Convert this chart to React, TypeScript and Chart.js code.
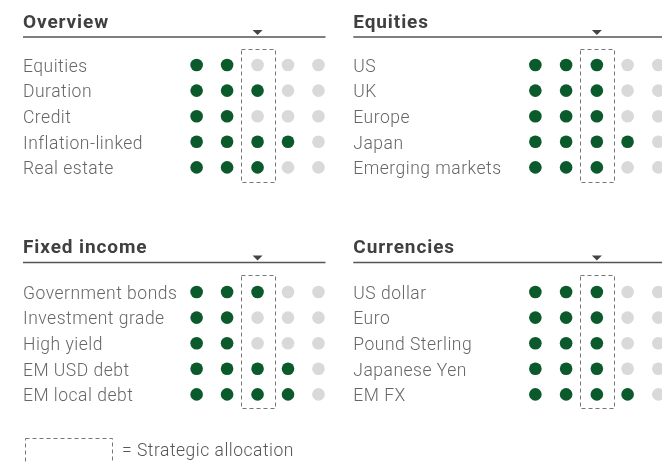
import React, { useEffect, useRef } from 'react';
import { Chart, registerables } from 'chart.js';
Chart.register(...registerables);

const scaleSteps = [1, 2, 3, 4, 5];
const strategicStep = 3;

const overviewTitle = 'Overview';
const overviewRows = ['Equities', 'Duration', 'Credit', 'Inflation-linked', 'Real estate'];
const overviewScores = [2, 3, 2, 4, 3];

const equitiesTitle = 'Equities';
const equitiesRows = ['US', 'UK', 'Europe', 'Japan', 'Emerging markets'];
const equitiesScores = [3, 3, 3, 4, 3];

const fixedIncomeTitle = 'Fixed income';
const fixedIncomeRows = ['Government bonds', 'Investment grade', 'High yield', 'EM USD debt', 'EM local debt'];
const fixedIncomeScores = [3, 2, 2, 4, 4];

const currenciesTitle = 'Currencies';
const currenciesRows = ['US dollar', 'Euro', 'Pound Sterling', 'Japanese Yen', 'EM FX'];
const currenciesScores = [3, 3, 3, 3, 4];

const legendText = '= Strategic allocation';

const GREEN = '#0b5a2c';
const GREY = '#d9d9d9';
const FONT = 'Roboto';
const LABEL_SPACING = '0.5px';

const panelDecor = {
  id: 'panelDecor',
  beforeDraw(chart: any) {
    (chart.ctx as any).letterSpacing = LABEL_SPACING;
  },
  afterDraw(chart: any, _args: any, opts: any) {
    const { ctx, chartArea } = chart;
    const xs = chart.scales.x;
    const left = opts.lineLeft;
    const dy = opts.decorDy || 0;
    const cx = xs.getPixelForValue(strategicStep);
    const lastX = xs.getPixelForValue(scaleSteps[scaleSteps.length - 1]);
    ctx.save();
    // title
    (ctx as any).letterSpacing = '0.9px';
    ctx.font = `bold 19px ${FONT}`;
    ctx.fillStyle = '#404040';
    ctx.textBaseline = 'alphabetic';
    ctx.textAlign = 'left';
    ctx.fillText(opts.title, left, 27.5 + dy);
    (ctx as any).letterSpacing = '0px';
    // rule
    ctx.strokeStyle = '#555';
    ctx.lineWidth = 1.4;
    ctx.beginPath();
    ctx.moveTo(left, 37 + dy);
    ctx.lineTo(lastX + 7, 37 + dy);
    ctx.stroke();
    // marker triangle
    ctx.fillStyle = '#444';
    ctx.beginPath();
    ctx.moveTo(cx - 5, 30 + dy);
    ctx.lineTo(cx + 5, 30 + dy);
    ctx.lineTo(cx, 35 + dy);
    ctx.closePath();
    ctx.fill();
    // dashed strategic box
    ctx.setLineDash([4, 3]);
    ctx.strokeStyle = '#777';
    ctx.lineWidth = 1;
    ctx.strokeRect(Math.round(cx - 17) + 0.5, Math.round(chartArea.top - 3 + dy) + 0.5, 34, chartArea.bottom - chartArea.top + 5);
    if (opts.legend) {
      ctx.strokeRect(25.5, 211.5, 87, 40);
      ctx.setLineDash([]);
      (ctx as any).letterSpacing = LABEL_SPACING;
      ctx.font = `300 17.5px ${FONT}`;
      ctx.fillStyle = '#555';
      ctx.textBaseline = 'middle';
      ctx.fillText(opts.legend, 122, 225);
    }
    ctx.restore();
  },
};

type PanelProps = {
  title: string;
  rows: string[];
  scores: number[];
  left: number;
  top: number;
  width: number;
  height: number;
  padLeft: number;
  axisWidth: number;
  padRight: number;
  padBottom: number;
  decorDy?: number;
  legend?: string;
};

function Panel(p: PanelProps) {
  const ref = useRef<HTMLCanvasElement>(null);
  useEffect(() => {
    if (!ref.current) return;
    const filled: any[] = [];
    const empty: any[] = [];
    p.rows.forEach((r, ri) => {
      scaleSteps.forEach((s) => {
        (s <= p.scores[ri] ? filled : empty).push({ x: s, y: r });
      });
    });
    const chart = new Chart(ref.current, {
      type: 'scatter',
      data: {
        datasets: [
          { data: filled, backgroundColor: GREEN, borderWidth: 0, pointRadius: 6.3, pointHoverRadius: 6.3 },
          { data: empty, backgroundColor: GREY, borderWidth: 0, pointRadius: 6.3, pointHoverRadius: 6.3 },
        ],
      },
      options: {
        responsive: false,
        animation: false,
        devicePixelRatio: 1,
        layout: { padding: { left: p.padLeft, right: p.padRight, top: 52.2, bottom: p.padBottom } },
        plugins: {
          legend: { display: false },
          tooltip: { enabled: false },
          panelDecor: { title: p.title, lineLeft: p.padLeft, legend: p.legend, decorDy: p.decorDy },
        } as any,
        scales: {
          x: { type: 'linear', min: 0.5, max: 5.5, display: false },
          y: {
            type: 'category',
            labels: p.rows,
            offset: true,
            grid: { display: false },
            border: { display: false },
            ticks: {
              crossAlign: 'far',
              padding: 0,
              labelOffset: 2.5,
              color: '#666',
              font: { family: FONT, size: 17.5, weight: '300' as any },
            },
            afterFit: (scale: any) => {
              scale.width = p.axisWidth;
            },
          },
        },
      },
      plugins: [panelDecor],
    });
    return () => chart.destroy();
  }, []);
  return (
    <div style={{ position: 'absolute', left: p.left, top: p.top, width: p.width, height: p.height }}>
      <canvas ref={ref} width={p.width} height={p.height} style={{ width: p.width, height: p.height, display: 'block' }} />
    </div>
  );
}

export default function App() {
  return (
    <div style={{ position: 'fixed', left: 0, top: 0, width: 662, height: 463, overflow: 'hidden', background: '#fff' }}>
      <Panel title={overviewTitle} rows={overviewRows} scores={overviewScores}
        left={0} top={0} width={340} height={227} padLeft={23} axisWidth={158.4} padRight={2.7} padBottom={46.8} />
      <Panel title={equitiesTitle} rows={equitiesRows} scores={equitiesScores}
        left={330} top={0} width={350} height={227} padLeft={23.3} axisWidth={166.7} padRight={5.25} padBottom={46.8} />
      <Panel title={fixedIncomeTitle} rows={fixedIncomeRows} scores={fixedIncomeScores}
        left={0} top={227} width={340} height={236} padLeft={23} axisWidth={158.4} padRight={2.7} padBottom={55.8}
        decorDy={-1.5} legend={legendText} />
      <Panel title={currenciesTitle} rows={currenciesRows} scores={currenciesScores}
        left={330} top={227} width={350} height={236} padLeft={23.3} axisWidth={166.7} padRight={5.25} padBottom={55.8}
        decorDy={-1.5} />
    </div>
  );
}
